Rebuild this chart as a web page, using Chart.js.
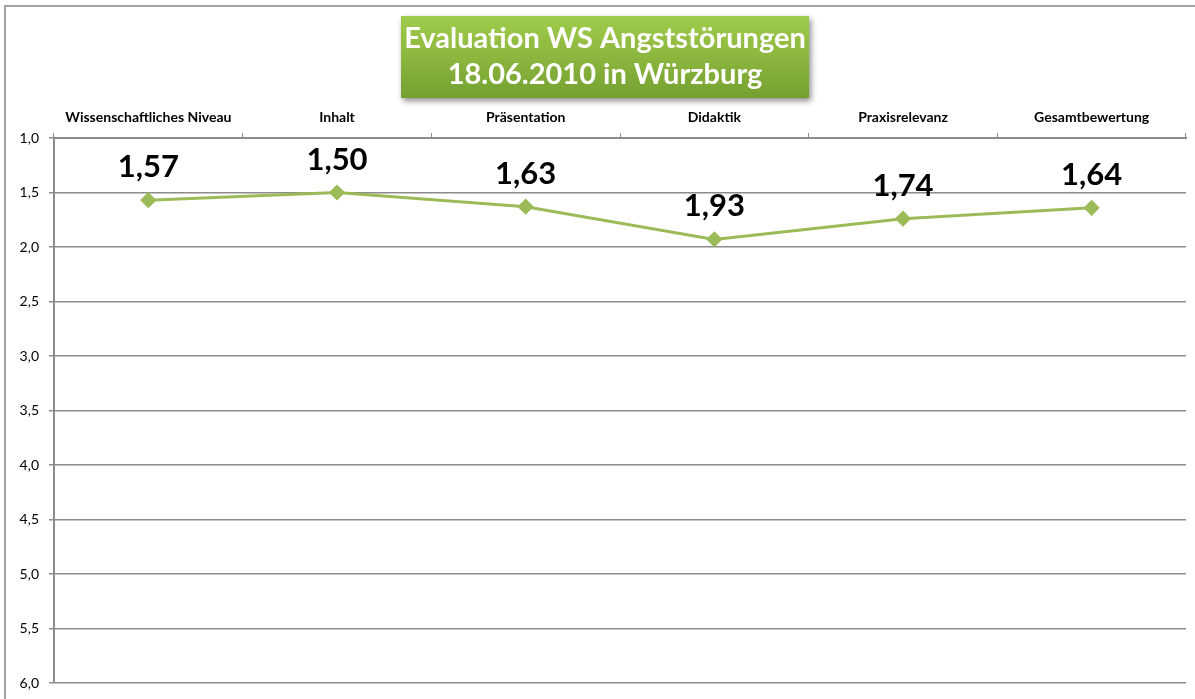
<!DOCTYPE html>
<html>
<head>
<meta charset="utf-8">
<script src="https://cdn.jsdelivr.net/npm/chart.js@4/dist/chart.umd.min.js"></script>
<style>
    body { margin: 0; background: #ffffff; }
    #wrap { width: 1195px; height: 699px; }
</style>
</head>
<body>
<div id="wrap"><canvas id="evalChart" width="1195" height="699"></canvas></div>
<script>
// Chart data
const categories = ['Wissenschaftliches Niveau', 'Inhalt', 'Präsentation', 'Didaktik', 'Praxisrelevanz', 'Gesamtbewertung'];
const ratings = [1.57, 1.50, 1.63, 1.93, 1.74, 1.64];
const yTicks = [1.0, 1.5, 2.0, 2.5, 3.0, 3.5, 4.0, 4.5, 5.0, 5.5, 6.0];
const titleLines = ['Evaluation WS Angststörungen', '18.06.2010 in Würzburg'];

const fmt = v => v.toFixed(2).replace('.', ',');
const lineGreen = '#9bbb59';
const gridGrey = '#8c8c8c';

// Frame, green title box and value labels
const decorations = {
    id: 'decorations',
    beforeDraw(chart) {
        const ctx = chart.ctx;
        ctx.save();
        ctx.strokeStyle = '#a0a0a0';
        ctx.lineWidth = 2;
        ctx.beginPath();
        ctx.moveTo(5, 699);
        ctx.lineTo(5, 6);
        ctx.lineTo(1195, 6);
        ctx.stroke();
        ctx.restore();
    },
    afterDraw(chart) {
        const ctx = chart.ctx;
        // title box
        const bx = 401, by = 16, bw = 408, bh = 82;
        ctx.save();
        ctx.shadowColor = 'rgba(0,0,0,0.45)';
        ctx.shadowBlur = 6;
        ctx.shadowOffsetX = 2;
        ctx.shadowOffsetY = 3;
        const grad = ctx.createLinearGradient(0, by, 0, by + bh);
        grad.addColorStop(0, '#a0cc4c');
        grad.addColorStop(0.5, '#8cb63e');
        grad.addColorStop(1, '#74a031');
        ctx.fillStyle = grad;
        ctx.fillRect(bx, by, bw, bh);
        ctx.restore();

        ctx.save();
        ctx.fillStyle = '#ffffff';
        ctx.font = 'bold 29px Lato, "Open Sans", sans-serif';
        ctx.textAlign = 'center';
        ctx.textBaseline = 'middle';
        ctx.fillText(titleLines[0], bx + bw / 2, 39);
        ctx.fillText(titleLines[1], bx + bw / 2, 75);
        ctx.restore();

        // value labels above the points
        const meta = chart.getDatasetMeta(0);
        ctx.save();
        ctx.fillStyle = '#000000';
        ctx.font = 'bold 31px Lato, "Open Sans", sans-serif';
        ctx.textAlign = 'center';
        ctx.textBaseline = 'alphabetic';
        meta.data.forEach((pt, i) => {
            ctx.fillText(fmt(ratings[i]), pt.x, pt.y - 23);
        });
        ctx.restore();
    }
};

const ctx = document.getElementById('evalChart').getContext('2d');
new Chart(ctx, {
    type: 'line',
    data: {
        labels: categories,
        datasets: [{
            data: ratings,
            borderColor: lineGreen,
            backgroundColor: lineGreen,
            borderWidth: 3,
            pointStyle: 'rectRot',
            pointRadius: 6,
            pointHoverRadius: 6,
            pointBackgroundColor: lineGreen,
            pointBorderColor: lineGreen,
            tension: 0
        }]
    },
    options: {
        responsive: false,
        animation: false,
        layout: { padding: { top: 100, right: 9, bottom: 16, left: 0 } },
        plugins: {
            legend: { display: false },
            title: { display: false },
            tooltip: { enabled: false }
        },
        scales: {
            x: {
                position: 'top',
                offset: true,
                grid: {
                    offset: true,
                    drawOnChartArea: false,
                    drawTicks: true,
                    tickLength: 5,
                    color: gridGrey
                },
                border: { color: gridGrey, width: 2 },
                ticks: {
                    color: '#000000',
                    font: { family: 'Lato, "Open Sans", sans-serif', size: 14, weight: 'bold' },
                    padding: 7,
                    maxRotation: 0,
                    autoSkip: false
                },
                afterFit(scale) { scale.height = 38; scale.paddingLeft = 0; scale.paddingRight = 0; }
            },
            y: {
                reverse: true,
                min: 1,
                max: 6,
                afterBuildTicks(scale) {
                    scale.ticks = yTicks.map(v => ({ value: v }));
                },
                grid: {
                    color: gridGrey,
                    lineWidth: 1.5,
                    tickLength: 5
                },
                border: { color: gridGrey, width: 2 },
                ticks: {
                    color: '#000000',
                    font: { family: 'Lato, "Open Sans", sans-serif', size: 14 },
                    padding: 10,
                    callback: v => v.toFixed(1).replace('.', ',')
                },
                afterFit(scale) { scale.width = 54; scale.paddingTop = 0; scale.paddingBottom = 0; }
            }
        }
    },
    plugins: [decorations]
});
</script>
</body>
</html>
